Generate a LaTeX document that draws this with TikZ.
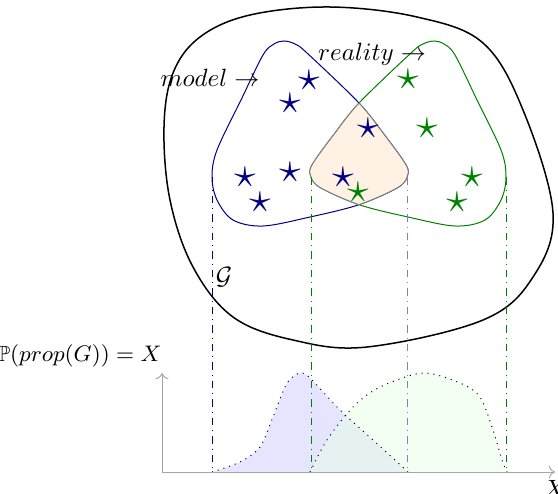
\documentclass[tikz,border=0pt]{standalone}
\usepackage{amsmath,amssymb}
\usetikzlibrary{arrows.meta}

\tikzset{
  mstar/.style={text=blue!50!black,font=\LARGE,inner sep=0pt},
  rstar/.style={text=green!50!black,font=\LARGE,inner sep=0pt},
  guide/.style={dash dot},
}
% One lobe, centred on x=0; the other one is its mirror image.
\newcommand{\lobe}{plot[smooth cycle,tension=0.55] coordinates
  {(-85,44) (-75,41) (-64,44) (-52,53) (-1,102) (24,133) (47,165)
   (48,177) (38,188) (-1,205) (-49,217) (-96,226) (-126,220)
   (-142,200) (-147,177) (-142,150) (-118,100) (-96,55)}}

\begin{document}
\begin{tikzpicture}[x=0.4pt,y=-0.4pt]
  \useasboundingbox (0,0) rectangle (558,493);

  % The space G of all graphs.
  \draw[semithick] plot[smooth cycle,tension=0.6] coordinates
    {(330,7) (417,17) (483,43) (523,110) (553,213) (533,277)
     (483,320) (367,347) (293,340) (233,317) (193,267) (170,200)
     (164,127) (173,73) (200,37) (250,15)};
  \node (G) at (224,277) {$\mathcal{G}$};

  % Model and reality, and where they agree.
  \draw[blue!50!black,shift={(359,0)}] \lobe;
  \draw[green!50!black,shift={(359,0)},xscale=-1] \lobe;
  \begin{scope}
    \clip[shift={(359,0)}] \lobe;
    \filldraw[fill=orange!10,draw=gray,shift={(359,0)},xscale=-1] \lobe;
  \end{scope}
  \begin{scope}
    \clip[shift={(359,0)},xscale=-1] \lobe;
    \draw[gray,shift={(359,0)}] \lobe;
  \end{scope}
  \node (model) at (210,78) {$model \rightarrow$};
  \node (reality) at (372,54) {$reality \rightarrow$};

  \foreach \p [count=\i] in {(309,80),(290,103),(368,128),(245,177),
                             (290,172),(260,202),(343,177)}
    \node[mstar] (m\i) at \p {$\star$};
  \foreach \p [count=\i] in {(408,79),(427,128),(472,177),(457,202),
                             (358,192)}
    \node[rstar] (r\i) at \p {$\star$};

  % The distribution of the property over G.
  \coordinate (O) at (162,472);
  \coordinate (xend) at (555,472);
  \coordinate (yend) at (162,373);
  \fill[blue!10] plot[smooth,tension=0.5] coordinates
    {(212,472) (240,462) (260,447) (273,417) (287,383) (300,373)
     (310,378) (340,410) (373,440) (408,472)} -- cycle;
  \fill[green!10,fill opacity=0.5] plot[smooth,tension=0.5] coordinates
    {(310,472) (327,440) (353,407) (380,387) (423,373) (460,383)
     (480,397) (493,430) (502,460) (507,472)} -- cycle;
  \draw[dotted] plot[smooth,tension=0.5] coordinates
    {(212,472) (240,462) (260,447) (273,417) (287,383) (300,373)
     (310,378) (340,410) (373,440) (408,472)};
  \draw[dotted] plot[smooth,tension=0.5] coordinates
    {(310,472) (327,440) (353,407) (380,387) (423,373) (460,383)
     (480,397) (493,430) (502,460) (507,472)};

  \coordinate (mW) at (212,177);
  \coordinate (mE) at (407,177);
  \coordinate (rW) at (311,177);
  \coordinate (rE) at (506,177);
  \draw[guide,blue!50!black] (mW) -- (mW |- O);
  \draw[guide,green!50!black] (rW) -- (rW |- O);
  \draw[guide,blue!50!black!50] (mE) -- (mE |- O);
  \draw[guide,green!50!black] (rE) -- (rE |- O);

  \draw[gray!70,->] (O) -- (xend);
  \draw[gray!70,->] (O) -- (yend);
  \node[below] (xlab) at (xend) {$X$};
  \node[anchor=south east,inner sep=0pt,yshift=2pt,
        font=\fontsize{8.8}{10}\selectfont] (plab) at (yend)
    {$\mathbb{P}(prop(G)) = X$};
\end{tikzpicture}
\end{document}
